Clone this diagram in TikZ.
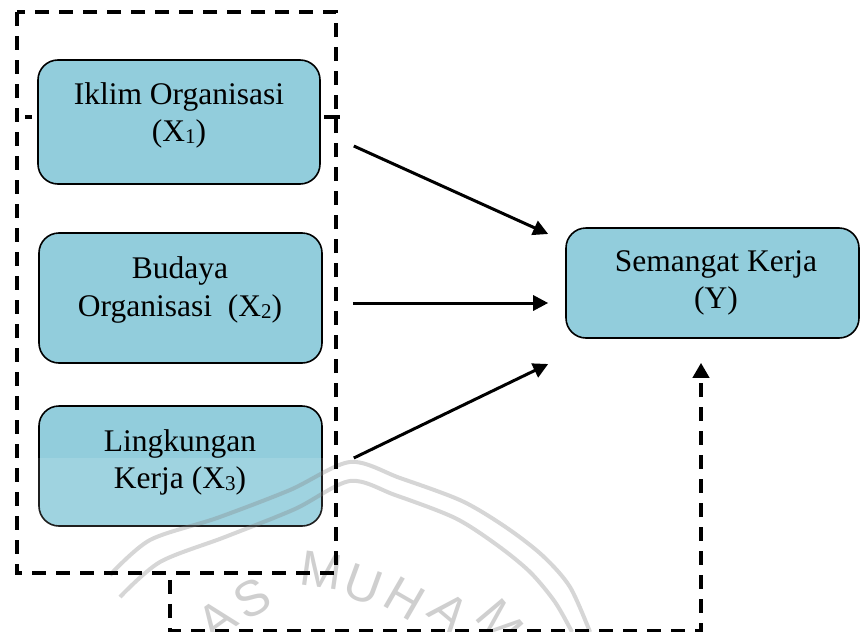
\documentclass[tikz,border=0pt]{standalone}
\usepackage{fontspec}
\setmainfont{Liberation Serif}
\newfontfamily\wmfont{Liberation Sans}
\usetikzlibrary{arrows.meta,calc}
\definecolor{boxfill}{RGB}{146,205,220}
\newcommand{\subdigit}[1]{\raisebox{-2pt}{\fontsize{21}{21}\selectfont #1}}
\tikzset{
  varbox/.style={draw=black, line width=1.6pt, fill=boxfill, rounded corners=20pt, inner sep=0pt},
  lbl/.style={align=center, font=\fontsize{31.5}{37.5}\selectfont, inner sep=0pt},
  causal/.style={line width=3pt, -{Triangle[length=15pt,width=15pt]}},
  groupframe/.style={line width=3.5pt, dash pattern=on 14pt off 10pt},
  stub/.style={line width=3.5pt},
  feedback/.style={line width=4pt, dash pattern=on 14pt off 10pt, -{Triangle[length=15pt,width=16pt]}},
  wmline/.style={draw=gray, line width=4pt, opacity=0.32},
  wmletter/.style={text=gray!38, font=\wmfont\fontsize{50}{50}\selectfont, inner sep=0pt},
}
\begin{document}
\begin{tikzpicture}[x=1pt,y=-1pt]
\useasboundingbox (0,0) rectangle (860,632);
\fill[white] (0,0) rectangle (860,632);

% boxes
\node[varbox, minimum width=282pt, minimum height=124pt] (x1) at (179,122) {};
\node[varbox, minimum width=283pt, minimum height=130pt] (x2) at (180.5,298) {};
\node[varbox, minimum width=283pt, minimum height=120pt] (x3) at (180.5,466) {};
\node[varbox, minimum width=293pt, minimum height=110pt] (y) at (712.5,283) {};

% lighter lower half of box 3 (watermark overlay)
\begin{scope}
  \clip[rounded corners=20pt] (x3.north west) rectangle (x3.south east);
  \fill[white, opacity=0.12] (0,458) rectangle (400,540);
\end{scope}

% labels
\node[lbl] (t1) at (179,115.5) {Iklim Organisasi\\(X\subdigit{1})};
\node[lbl] (t2) at (180,290) {Budaya\\Organisasi\ \ (X\subdigit{2})};
\node[lbl] (t3) at (180,462.5) {Lingkungan\\Kerja (X\subdigit{3})};
\node[lbl] (ty) at (716,283) {Semangat Kerja\\(Y)};

% watermark
\draw[wmline] plot[smooth] coordinates {(110,575) (150,540) (217,518) (290,490) (350,462) (400,478) (462,501) (507,528) (543,556) (570,587) (590,632)};
\draw[wmline] plot[smooth] coordinates {(120,597) (160,562) (225,537) (295,509) (350,481) (395,495) (455,518) (497,545) (530,572) (555,602) (572,632)};
\node[wmletter, rotate=-8]  (w1) at (322,570) {M};
\node[wmletter, rotate=-20] (w2) at (363,585) {U};
\node[wmletter, rotate=-30] (w3) at (405,599) {H};
\node[wmletter, rotate=-40] (w4) at (449,612) {A};
\node[wmletter, rotate=-50] (w5) at (500,622) {M};
\node[wmletter, rotate=28]  (w6) at (252,598) {S};
\node[wmletter, rotate=36]  (w7) at (217,620) {A};

% group frame and stubs
\draw[groupframe] (17,12) rectangle (336,573);
\draw[stub] (25,117) -- (32,117);
\draw[stub] (324,117) -- (340,117);

% causal arrows
\coordinate (a1s) at ($(x1.east)+(33,24)$);
\coordinate (a1e) at ($(y.west)+(-17,-49)$);
\coordinate (a2s) at ($(x2.east)+(30,5)$);
\coordinate (a2e) at ($(y.west)+(-17,20)$);
\coordinate (a3s) at ($(x3.east)+(31,-8)$);
\coordinate (a3e) at ($(y.west)+(-17,81)$);
\draw[causal] (a1s) -- (a1e);
\draw[causal] (a2s) -- (a2e);
\draw[causal] (a3s) -- (a3e);

% feedback dashed connector
\coordinate (f0) at ($(x3.south)+(-10.5,53)$);
\coordinate (fe) at ($(y.south)+(-11.5,24)$);
\coordinate (fc) at ($(fe)+(0,268)$);
\draw[feedback] (f0) |- (fc) -- (fe);
\end{tikzpicture}
\end{document}
